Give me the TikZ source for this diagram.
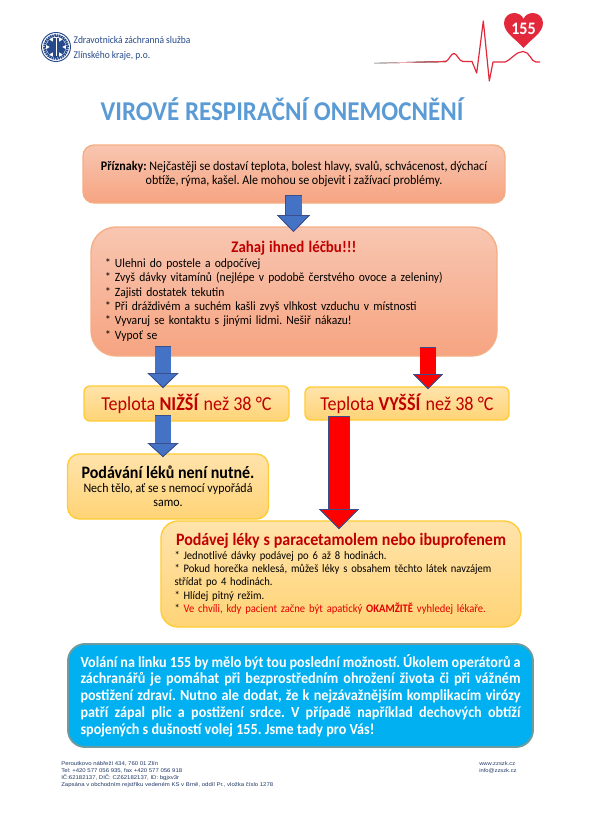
\documentclass[tikz,border=0pt]{standalone}
\usepackage{fontspec}
\setmainfont{Carlito}[FakeStretch=0.92]
\newfontfamily\footerfont{Liberation Sans}[FakeStretch=1.1]
\usepackage{xcolor}
\usetikzlibrary{arrows.meta}
\definecolor{peachtop}{HTML}{F8C6B1}
\definecolor{peachbot}{HTML}{F6A481}
\definecolor{peachedge}{HTML}{F4AE84}
\definecolor{sandtop}{HTML}{FFE3AB}
\definecolor{sandbot}{HTML}{FFD476}
\definecolor{sandedge}{HTML}{FFCC33}
\definecolor{callblue}{HTML}{00B0F0}
\definecolor{calledge}{HTML}{6E9C9E}
\definecolor{darkred}{HTML}{C00000}
\definecolor{arrowblue}{HTML}{4472C4}
\definecolor{arrowedge}{HTML}{3A4F8C}
\definecolor{titleblue}{HTML}{5B9BD5}
\definecolor{navy}{HTML}{25498A}
\definecolor{footnavy}{HTML}{1F3864}
\definecolor{ecgred}{HTML}{E2283A}
\newcommand{\px}{0.75pt}
\newcommand{\pxfont}[2]{\fontsize{\dimexpr#1pt*3/4\relax}{\dimexpr#2pt*3/4\relax}\selectfont}
\newcommand{\bul}{{*}\ }

\begin{document}
\frenchspacing
\begin{tikzpicture}[
  x=0.75pt,y=-0.75pt,
  peach/.style={draw=peachedge, line width=1pt, top color=peachtop, bottom color=peachbot, inner sep=0pt, align=center},
  sand/.style={draw=sandedge, line width=1pt, top color=sandtop, bottom color=sandbot, inner sep=0pt, align=center},
  blockarrow/.style n args={4}{line width=#2*\px,
    preaction={draw=arrowedge, line width=#2*\px+1pt, shorten <=-0.5pt},
    draw=#1, -{Triangle[length=#3*\px, width=#4*\px, fill=#1, color=arrowedge, line width=0.6pt]}},
  plain/.style={inner sep=0pt, align=left}
]
\useasboundingbox (0,0) rectangle (590,836);
% logo
\fill[white, draw=navy, line width=0.7pt] (56,47) circle (14.5*\px);
\draw[navy, line width=2pt, dash pattern=on 1.2pt off 0.5pt] (56,47) circle (11.6*\px);
\foreach \a in {0,60,120}
  \fill[navy, rotate around={\a:(56,47)}] (53,37.5) rectangle (59,56.5);
\draw[white, line width=0.6pt] (56,38) -- (56,56);
\node[plain, text=navy, font=\pxfont{10.3}{15}] (zzs) at (132,48.5) {Zdravotnická záchranná služba\\Zlínského kraje, p.o.};
% ecg line and heart
\fill[left color=white, right color=ecgred, draw=none] (374,62.9) -- (446,60.9) -- (446,62.1) -- (374,63.5) -- cycle;
\draw[ecgred, line width=0.9pt, line join=round] (446,61.5) .. controls (449,60) and (451,53.5) .. (454,53.5)
  .. controls (457,53.5) and (459,61.5) .. (463,61.5) -- (472,61.5) -- (476.7,73) -- (483.3,21) -- (489.3,81) -- (493,62) -- (505,62)
  .. controls (511,60) and (516,51.5) .. (523,51.5) .. controls (530,51.5) and (531,62) .. (536,62) -- (540,62);
\fill[ecgred] (523.5,48) .. controls (516,39) and (504,33) .. (504,23) .. controls (504,17) and (509,13) .. (514,13)
  .. controls (518,13) and (522,15) .. (523.5,19) .. controls (525,15) and (529,13) .. (533,13)
  .. controls (538,13) and (543,17) .. (543,23) .. controls (543,33) and (531,39) .. (523.5,48) -- cycle;
\node[inner sep=0pt, text=white, font=\pxfont{17.5}{18}\bfseries] (heart) at (523.5,29) {155};
% title
\node[inner sep=0pt, text=titleblue, font=\pxfont{27.2}{30}\bfseries] (title) at (282,109) {VIROVÉ RESPIRAČNÍ ONEMOCNĚNÍ};
% boxes
\node[peach, rounded corners=11*\px, minimum width=422*\px, minimum height=58*\px, font=\pxfont{13.1}{14}] (symptoms) at (294,174)
  {\textbf{Příznaky:} Nejčastěji se dostaví teplota, bolest hlavy, svalů, schvácenost, dýchací\\obtíže, rýma, kašel. Ale mohou se objevit i zažívací problémy.};
\node[peach, rounded corners=25*\px, minimum width=406*\px, minimum height=129*\px, text width=378*\px, align=left, font=\pxfont{12.6}{14.4}] (care) at (294,291.5)
  {\makebox[\hsize]{\textcolor{darkred}{\pxfont{16.2}{16}\bfseries Zahaj ihned léčbu!!!}}\\
   \bul Ulehni do postele a odpočívej\\
   \bul Zvyš dávky vitamínů (nejlépe v podobě čerstvého ovoce a zeleniny)\\
   \bul Zajisti dostatek tekutin\\
   \bul Při dráždivém a suchém kašli zvyš vlhkost vzduchu v místnosti\\
   \bul Vyvaruj se kontaktu s jinými lidmi. Nešiř nákazu!\\
   \bul Vypoť se};
\node[sand, rounded corners=6*\px, minimum width=205*\px, minimum height=35*\px, text=darkred, font=\pxfont{19.7}{22}] (lower) at (186.5,403.5) {Teplota \textbf{NIŽŠÍ} než 38 °C};
\node[sand, rounded corners=6*\px, minimum width=204*\px, minimum height=33*\px, text=darkred, font=\pxfont{19.7}{22}] (higher) at (407,403.5) {Teplota \textbf{VYŠŠÍ} než 38 °C};
\node[sand, rounded corners=12*\px, minimum width=201*\px, minimum height=65*\px, font=\pxfont{13}{14}] (nomeds) at (168,486.5)
  {{\pxfont{17.4}{17}\bfseries Podávání léků není nutné.}\\Nech tělo, ať se s nemocí vypořádá\\samo.};
\node[sand, rounded corners=17*\px, minimum width=360*\px, minimum height=106*\px, text width=333*\px, align=left, font=\pxfont{11.5}{13.4}] (meds) at (341,574)
  {\makebox[\hsize]{\textcolor{darkred}{\pxfont{17.4}{15}\bfseries Podávej léky s paracetamolem nebo ibuprofenem}}\\
   \bul Jednotlivé dávky podávej po 6 až 8 hodinách.\\
   \bul Pokud horečka neklesá, můžeš léky s obsahem těchto látek navzájem\\
   střídat po 4 hodinách.\\
   \bul Hlídej pitný režim.\\
   \bul \textcolor{red!90!black}{Ve chvíli, kdy pacient začne být apatický \textbf{OKAMŽITĚ} vyhledej lékaře.}};
\node[draw=calledge, line width=1.4pt, fill=callblue, rounded corners=17*\px, minimum width=465*\px, minimum height=103*\px, inner sep=0pt,
  text=white, text width=440*\px, align=justify, font=\pxfont{15.4}{16.8}\bfseries] (call) at (300.5,695.5)
  {Volání na linku 155 by mělo být tou poslední možností. Úkolem operátorů a\linebreak
   záchranářů je pomáhat při bezprostředním ohrožení života či při vážném\linebreak
   postižení zdraví. Nutno ale dodat, že k nejzávažnějším komplikacím virózy\linebreak
   patří zápal plic a postižení srdce. V případě například dechových obtíží\linebreak
   spojených s dušností volej 155. Jsme tady pro Vás!};
% footer
\node[plain, anchor=north west, text=footnavy, font=\footerfont\pxfont{5.45}{7.2}] (address) at (61,761)
  {Peroutkovo nábřeží 434, 760 01 Zlín\\Tel: +420 577 056 935, fax +420 577 056 918\\IČ:62182137, DIČ: CZ62182137, ID: bgjxv3r\\Zapsána v obchodním rejstříku vedeném KS v Brně, oddíl Pr., vložka číslo 1278};
\node[plain, anchor=north west, text=footnavy, font=\footerfont\pxfont{5.3}{7.2}] (web) at (479,761)
  {www.zzszk.cz\\info@zzszk.cz};
% arrows
\coordinate (symptomsOut) at (293.5,196);
\coordinate (careIn) at (293.5,232);
\coordinate (careLow) at (163,347);
\coordinate (lowerIn) at (163,388);
\coordinate (careHigh) at (428,348);
\coordinate (higherIn) at (428,389);
\coordinate (lowerOut) at (163,416);
\coordinate (nomedsIn) at (163,457);
\coordinate (higherOut) at (339,417);
\coordinate (medsIn) at (339,529);
\draw[blockarrow={arrowblue}{16}{17}{33}] (symptomsOut) -- (careIn);
\draw[blockarrow={arrowblue}{15.5}{15}{31}] (careLow) -- (lowerIn);
\draw[blockarrow={red}{15.5}{15}{30}] (careHigh) -- (higherIn);
\draw[blockarrow={arrowblue}{15.5}{14}{31}] (lowerOut) -- (nomedsIn);
\draw[blockarrow={red}{20}{20}{40}] (higherOut) -- (medsIn);
\end{tikzpicture}
\end{document}
